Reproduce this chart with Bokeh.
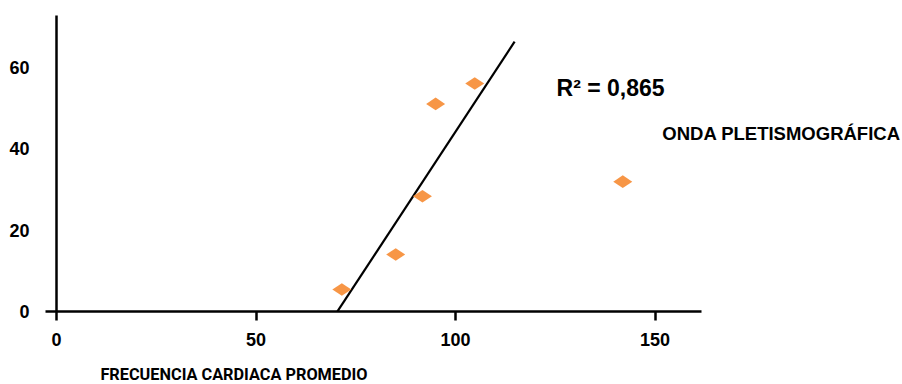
import math
from bokeh.plotting import figure
from bokeh.models import Range1d, Label, FixedTicker
from bokeh.embed import file_html
from bokeh.resources import INLINE

# Data
fc_promedio = [71.5, 85, 91.7, 95, 104.8, 141.9]
onda_pletismografica = [5.4, 14, 28.3, 51, 56, 31.9]
trend_x = [70.4, 114.8]
trend_y = [0, 66.3]
x_ticks = [0, 50, 100, 150]
y_ticks = [0, 20, 40, 60]
r2_text = "R² = 0,865"
series_name = "ONDA PLETISMOGRÁFICA"
x_title = "FRECUENCIA CARDIACA PROMEDIO"

X0, X1 = -2.8, 161.6
Y0, Y1 = 0, 72.7
p = figure(width=902, height=384, output_backend="svg", toolbar_location=None,
           x_range=Range1d(-14.04, 212.0), y_range=Range1d(-17.94, 76.4),
           min_border_left=0, min_border_right=0, min_border_top=0,
           min_border_bottom=0)
p.outline_line_color = None
p.grid.visible = False
p.background_fill_color = "white"
p.border_fill_color = "white"

FONT = "Liberation Sans"

# x axis
xa = p.xaxis[0]
xa.fixed_location = 0
xa.bounds = (X0, X1)
xa.ticker = FixedTicker(ticks=x_ticks)
xa.axis_line_width = 2.5
xa.axis_line_color = "black"
xa.major_tick_line_width = 2.5
xa.major_tick_line_color = "black"
xa.major_tick_out = 9
xa.major_tick_in = 0
xa.minor_tick_line_color = None
xa.major_label_text_font = FONT
xa.major_label_text_font_style = "bold"
xa.major_label_text_font_size = "18px"
xa.major_label_text_color = "black"
xa.major_label_standoff = 13

# y axis
ya = p.yaxis[0]
ya.fixed_location = 0
ya.bounds = (Y0, Y1)
ya.ticker = FixedTicker(ticks=y_ticks)
ya.axis_line_width = 2.5
ya.axis_line_color = "black"
ya.major_tick_line_color = None
ya.minor_tick_line_color = None
ya.major_tick_out = 0
ya.major_tick_in = 0
ya.major_label_text_font = FONT
ya.major_label_text_font_style = "bold"
ya.major_label_text_font_size = "18px"
ya.major_label_text_color = "black"
ya.major_label_standoff = 27

# trend line
p.line(trend_x, trend_y, line_color="black", line_width=2.2)

# points
p.scatter(fc_promedio, onda_pletismografica, marker="diamond", size=19,
          angle=math.pi / 2, fill_color="#F79646", line_color=None)

p.add_layout(Label(x=125.3, y=54.8, text=r2_text, text_font=FONT,
                   text_font_style="bold", text_font_size="23px",
                   text_baseline="middle", text_color="black"))
p.add_layout(Label(x=151.8, y=43.7, text=series_name, text_font=FONT,
                   text_font_style="bold", text_font_size="18.5px",
                   text_baseline="middle", text_color="black"))
p.add_layout(Label(x=11.0, y=-15.4, text=x_title, text_font="Roboto",
                   text_font_style="bold", text_font_size="16.3px",
                   text_baseline="middle", text_color="black"))

open("out.html", "w").write(file_html(p, INLINE))
